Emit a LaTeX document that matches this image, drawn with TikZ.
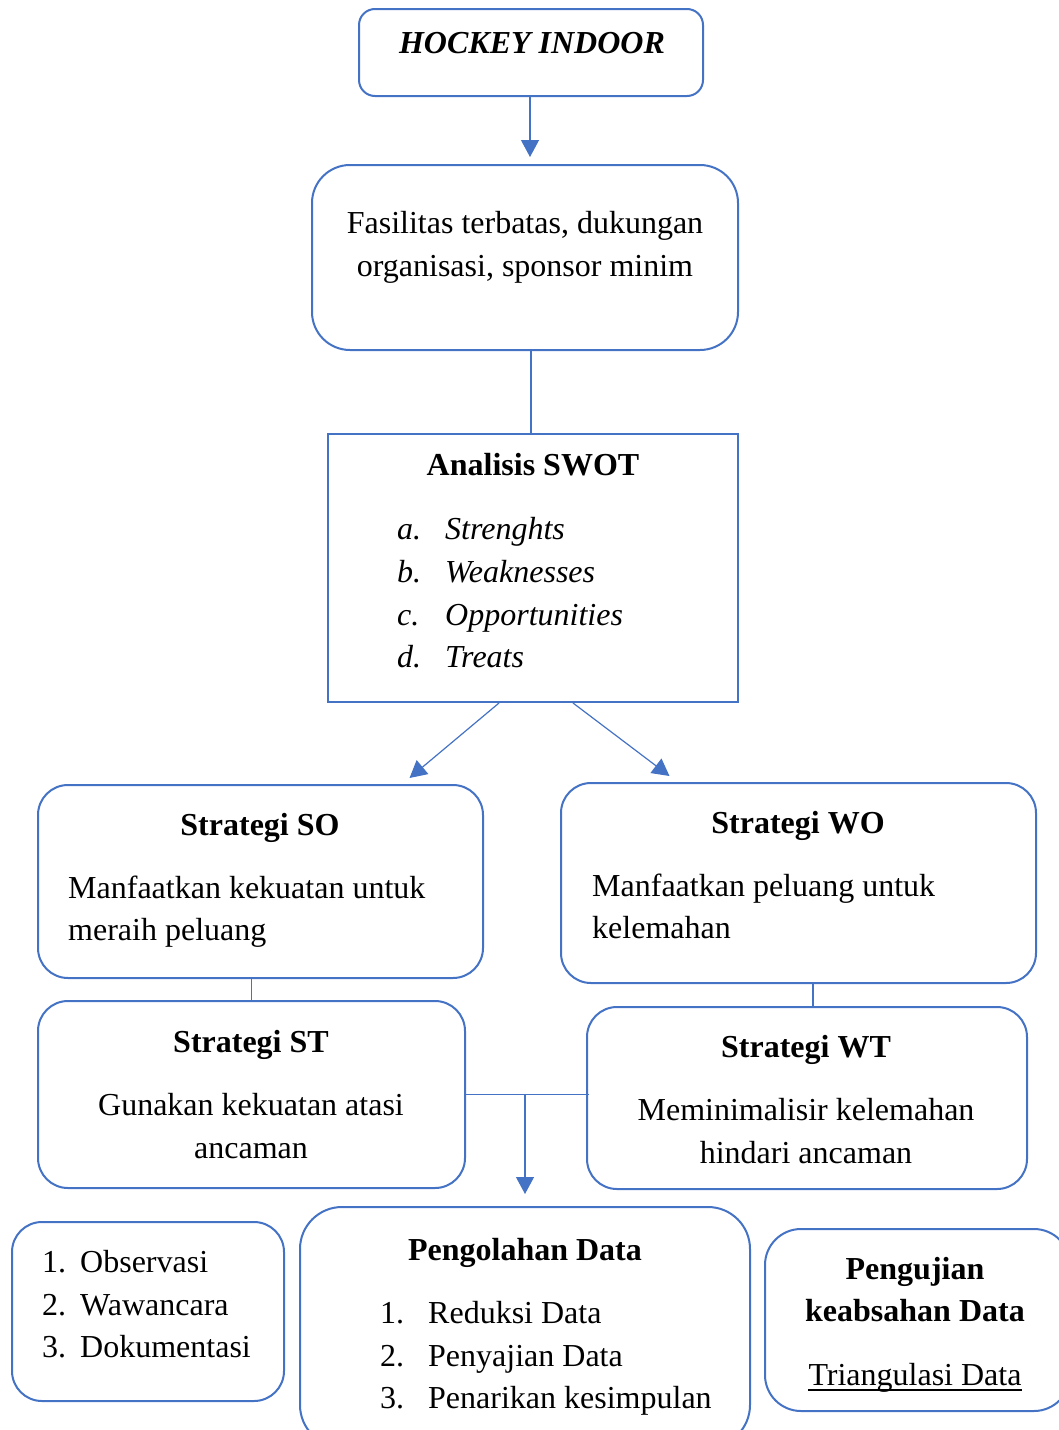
\documentclass[tikz,border=0pt]{standalone}
\usepackage{fontspec}
\setmainfont{Liberation Serif}
\usepackage{tikz}
\usetikzlibrary{arrows.meta}
\definecolor{boxblue}{HTML}{4472C4}
\tikzstyle{roundbox} = [rectangle, rounded corners=30pt, draw=boxblue, line width=2pt]
\tikzstyle{swotbox}  = [rectangle, draw=boxblue, line width=2pt]
\tikzstyle{txt}      = [inner sep=0pt, font=\fontsize{32}{43}\selectfont]
\tikzstyle{link}     = [draw=boxblue, line width=1.2pt]
\tikzstyle{arrow}    = [link, -{Triangle[length=17pt,width=18pt]}]

\begin{document}
\begin{tikzpicture}[x=1pt, y=-1pt]
      \clip (0,0) rectangle (1059,1430);
      % Nodes
      %% Boxes
      \node (hockey_indoor)   [roundbox, rounded corners=16pt, minimum width=344pt, minimum height=87pt]  at (531,52.5)   {};
      \node (fasilitas)       [roundbox, rounded corners=38pt, minimum width=426pt, minimum height=185pt] at (525,257.5)  {};
      \node (analisis_swot)   [swotbox, minimum width=410pt, minimum height=268pt]                        at (533,568)    {};
      \node (strategi_so)     [roundbox, minimum width=445pt, minimum height=193pt]                       at (260.5,881.5) {};
      \node (strategi_wo)     [roundbox, minimum width=475pt, minimum height=200pt]                       at (798.5,883)  {};
      \node (strategi_st)     [roundbox, minimum width=427pt, minimum height=187pt]                       at (251.5,1094.5) {};
      \node (strategi_wt)     [roundbox, minimum width=440pt, minimum height=182pt]                       at (807,1098)   {};
      \node (teknik_data)     [roundbox, minimum width=272pt, minimum height=179pt]                       at (148,1311.5) {};
      \node (pengolahan_data) [roundbox, rounded corners=42pt, minimum width=450pt, minimum height=240pt] at (525,1327)   {};
      \node (pengujian_data)  [roundbox, rounded corners=36pt, minimum width=305pt, minimum height=182pt] at (917.5,1320) {};

      %% Texts
      \node (hockey_txt)  [txt, anchor=base] at (532,53) {\bfseries\itshape HOCKEY INDOOR};
      \node (fas_txt1)    [txt, anchor=base] at (525,233) {Fasilitas terbatas, dukungan};
      \node (fas_txt2)    [txt, anchor=base] at (525,276) {organisasi, sponsor minim};

      \node (swot_title)  [txt, anchor=base] at (533,475) {\bfseries Analisis SWOT};
      \node (swot_a)      [txt, anchor=base west] at (397,539) {\itshape a.};
      \node (swot_b)      [txt, anchor=base west] at (397,582) {\itshape b.};
      \node (swot_c)      [txt, anchor=base west] at (397,625) {\itshape c.};
      \node (swot_d)      [txt, anchor=base west] at (397,667) {\itshape d.};
      \node (swot_s)      [txt, anchor=base west] at (445,539) {\itshape Strenghts};
      \node (swot_w)      [txt, anchor=base west] at (445,582) {\itshape Weaknesses};
      \node (swot_o)      [txt, anchor=base west] at (445,625) {\itshape Opportunities};
      \node (swot_t)      [txt, anchor=base west] at (445,667) {\itshape Treats};

      \node (so_title)    [txt, anchor=base] at (260,835) {\bfseries Strategi SO};
      \node (so_txt1)     [txt, anchor=base west] at (68,898) {Manfaatkan kekuatan untuk};
      \node (so_txt2)     [txt, anchor=base west] at (68,940) {meraih peluang};

      \node (wo_title)    [txt, anchor=base] at (798,833) {\bfseries Strategi WO};
      \node (wo_txt1)     [txt, anchor=base west] at (592,896) {Manfaatkan peluang untuk};
      \node (wo_txt2)     [txt, anchor=base west] at (592,938) {kelemahan};

      \node (st_title)    [txt, anchor=base] at (251,1052) {\bfseries Strategi ST};
      \node (st_txt1)     [txt, anchor=base] at (251,1115) {Gunakan kekuatan atasi};
      \node (st_txt2)     [txt, anchor=base] at (251,1158) {ancaman};

      \node (wt_title)    [txt, anchor=base] at (806,1057) {\bfseries Strategi WT};
      \node (wt_txt1)     [txt, anchor=base] at (806,1120) {Meminimalisir kelemahan};
      \node (wt_txt2)     [txt, anchor=base] at (806,1163) {hindari ancaman};

      \node (obs_1)       [txt, anchor=base west] at (42,1272) {1.};
      \node (obs_2)       [txt, anchor=base west] at (42,1315) {2.};
      \node (obs_3)       [txt, anchor=base west] at (42,1357) {3.};
      \node (obs_txt1)    [txt, anchor=base west] at (80,1272) {Observasi};
      \node (obs_txt2)    [txt, anchor=base west] at (80,1315) {Wawancara};
      \node (obs_txt3)    [txt, anchor=base west] at (80,1357) {Dokumentasi};

      \node (olah_title)  [txt, anchor=base] at (525,1260) {\bfseries Pengolahan Data};
      \node (olah_1)      [txt, anchor=base west] at (380,1323) {1.};
      \node (olah_2)      [txt, anchor=base west] at (380,1366) {2.};
      \node (olah_3)      [txt, anchor=base west] at (380,1408) {3.};
      \node (olah_txt1)   [txt, anchor=base west] at (428,1323) {Reduksi Data};
      \node (olah_txt2)   [txt, anchor=base west] at (428,1366) {Penyajian Data};
      \node (olah_txt3)   [txt, anchor=base west] at (428,1408) {Penarikan kesimpulan};

      \node (uji_title1)  [txt, anchor=base] at (915,1279) {\bfseries Pengujian};
      \node (uji_title2)  [txt, anchor=base] at (915,1321) {\bfseries keabsahan Data};
      \node (uji_txt)     [txt, anchor=base] at (915,1385) {Triangulasi Data};
      \draw [line width=1.8pt] ([yshift=-5pt]uji_txt.base west) -- ([yshift=-5pt]uji_txt.base east);

      % % Arrows
      \draw [arrow, shorten >=7pt] ([xshift=-1pt]hockey_indoor.south) -- ([xshift=-1pt]hockey_indoor.south |- fasilitas.north);
      \draw [link]  ([xshift=-2pt]analisis_swot.north |- fasilitas.south) -- ([xshift=-2pt]analisis_swot.north);
      \draw [arrow] ([xshift=-34pt]analisis_swot.south) -- ([xshift=149pt,yshift=6pt]strategi_so.north);
      \draw [arrow] ([xshift=40pt]analisis_swot.south)  -- ([xshift=-129pt,yshift=6pt]strategi_wo.north);
      \draw [link]  (strategi_st.north |- strategi_so.south) -- (strategi_st.north);
      \draw [link]  ([xshift=6pt]strategi_wt.north |- strategi_wo.south) -- ([xshift=6pt]strategi_wt.north);
      \draw [link]  (strategi_st.east) -- ([xshift=3pt]strategi_wt.west |- strategi_st.east);
      \coordinate (junction) at (pengolahan_data.north |- strategi_st.east);
      \draw [arrow, shorten >=12pt] (junction) -- (pengolahan_data.north);
\end{tikzpicture}
\end{document}
